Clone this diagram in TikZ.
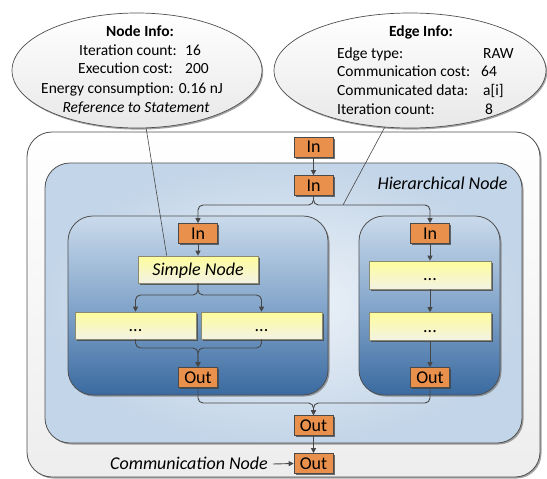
\documentclass[tikz,border=0pt]{standalone}
\usepackage{fontspec}
\setmainfont{Carlito}
\usetikzlibrary{arrows.meta,shapes.geometric,shadows,calc}

\definecolor{linegray}{HTML}{474747}
\definecolor{framegray}{HTML}{505050}
\definecolor{portfill}{HTML}{E9914C}
\definecolor{portborder}{HTML}{4A4A4A}
\definecolor{yellowtop}{HTML}{FEFD9C}
\definecolor{yellowbot}{HTML}{F3F2E4}
\definecolor{yellowborder}{HTML}{8A8A70}
\definecolor{hierlight}{HTML}{EEF3F9}
\definecolor{hierblue}{HTML}{C3D5E8}
\definecolor{subtop}{HTML}{CADAEB}
\definecolor{submid}{HTML}{84A6CB}
\definecolor{subbot}{HTML}{3A6AA0}

\begin{document}
\begin{tikzpicture}[x=1pt,y=-1pt,
  boxshadow/.style={drop shadow={shadow xshift=1.6pt,shadow yshift=-1.6pt,fill=black!75,opacity=.75}},
  bigshadow/.style={drop shadow={shadow xshift=1.5pt,shadow yshift=-1.5pt,fill=black!60,opacity=.6}},
  labelfont/.style={font=\fontsize{18}{21}\selectfont},
  container/.style={draw=framegray,line width=0.8pt,rounded corners=25pt,inner sep=0pt},
  port/.style={draw=portborder,fill=portfill,line width=0.6pt,minimum width=39pt,minimum height=20pt,
    inner sep=0pt,text height=11.5pt,text depth=0pt,labelfont,boxshadow},
  task/.style={draw=yellowborder,top color=yellowtop,bottom color=yellowbot,line width=0.6pt,
    minimum width=121pt,minimum height=27pt,inner sep=0pt,text height=11.5pt,text depth=0pt,labelfont,boxshadow},
  caption/.style={inner sep=0pt,text height=11.5pt,text depth=0pt,font=\fontsize{18}{21}\selectfont\itshape},
  arr/.style={draw=linegray,line width=0.9pt,-{Triangle[length=5pt,width=5pt]},rounded corners=5pt},
  callout/.style={draw=linegray,line width=0.6pt},
  info/.style={ellipse,draw=framegray,line width=0.7pt,top color=white,bottom color=black!9,inner sep=0pt,
    minimum height=115pt,drop shadow={shadow xshift=1.2pt,shadow yshift=-1.6pt,fill=black!60,opacity=.6}},
  infotext/.style={inner sep=0pt,anchor=base west,font=\fontsize{15.5}{18}\selectfont}
]
\useasboundingbox (0,0) rectangle (547,479);
\fill[white] (0,0) rectangle (547,479);

% nested regions
\node[container,top color=white,bottom color=black!7,bigshadow,minimum width=513pt,minimum height=345pt]
  (comm) at (283.5,304.5) {};
\node[container,inner color=hierlight,outer color=hierblue,bigshadow,minimum width=477pt,minimum height=280pt]
  (hier) at (283.5,303) {};
\node[container,top color=subtop,bottom color=subbot,middle color=submid,bigshadow,minimum width=260pt,minimum height=179pt]
  (subL) at (198,305.5) {};
\node[container,top color=subtop,bottom color=subbot,middle color=submid,bigshadow,minimum width=141pt,minimum height=179pt]
  (subR) at (429.5,305.5) {};

\node[caption] (hiername) at (442.5,184) {Hierarchical Node};

% ports
\node[port] (inTop) at (313.5,147) {In};
\node[port] (in2)   at (313.5,185.5) {In};
\node[port] (inL)   at (198,233.5) {In};
\node[port] (inR)   at (430,233.5) {In};
\node[port] (outL)  at (198,377.5) {Out};
\node[port] (outR)  at (430,377.5) {Out};
\node[port] (outH)  at (313.5,425.5) {Out};
\node[port] (outC)  at (313.5,463.5) {Out};

% tasks
\node[task,minimum width=120pt,font=\fontsize{18}{21}\selectfont\itshape] (simple) at (198,269.5) {Simple Node};
\node[task] (yL1) at (135.5,325.5) {...};
\node[task] (yL2) at (261.5,325.5) {...};
\node[task,minimum width=122pt,minimum height=28pt] (yR1) at (430,275) {...};
\node[task,minimum width=122pt,minimum height=28pt] (yR2) at (430,326.5) {...};

\node[caption,anchor=east] (commname) at (268,464) {Communication Node};

% junction points
\coordinate (j1) at (313.5,205);
\coordinate (eb) at (343,205);
\coordinate (j2) at (198,295);
\coordinate (j3) at (198,348);
\coordinate (j4) at (313.5,403);

% connectors
\draw[arr] (inTop.south) -- (in2.north);
\draw[arr] (in2.south) -- (j1) -| (inL.north);
\draw[arr] (in2.south) -- (j1) -| (inR.north);
\draw[arr] (inL.south) -- (simple.north);
\draw[arr] (simple.south) -- (j2) -| (yL1.north);
\draw[arr] (simple.south) -- (j2) -| (yL2.north);
\draw[arr] (yL1.south) |- (j3) -- (outL.north);
\draw[arr] (yL2.south) |- (j3) -- (outL.north);
\draw[arr] (inR.south) -- (yR1.north);
\draw[arr] (yR1.south) -- (yR2.north);
\draw[arr] (yR2.south) -- (outR.north);
\draw[arr] (outL.south) |- (j4) -- (outH.north);
\draw[arr] (outR.south) |- (j4) -- (outH.north);
\draw[arr] (outH.south) -- (outC.north);
\draw[arr] ($(commname.east)+(5,0)$) -- (outC.west);

% information callouts
\node[info,minimum width=250pt] (nodeinfo) at (137,70.5) {};
\node[info,minimum width=272pt] (edgeinfo) at (410,70.5) {};
\draw[callout] (nodeinfo.-81) -- ($(simple.north west)+(29,0)$);
\draw[callout] (edgeinfo.-114) -- (eb);

\node[infotext,anchor=base,font=\fontsize{15.5}{18}\selectfont\bfseries] (ni0) at (140,37) {Node Info:};
\node[infotext] (ni1) at (79,55) {Iteration count:};
\node[infotext] (ni1v) at (185,55) {16};
\node[infotext] (ni2) at (78,74) {Execution cost:};
\node[infotext] (ni2v) at (185,74) {200};
\node[infotext] (ni3) at (41,93) {Energy consumption: 0.16 nJ};
\node[infotext,anchor=base,font=\fontsize{15.5}{18}\selectfont\itshape] (ni4) at (136,112) {Reference to Statement};

\node[infotext,anchor=base,font=\fontsize{15.5}{18}\selectfont\bfseries] (ei0) at (421,37) {Edge Info:};
\node[infotext] (ei1) at (337,58) {Edge type:};
\node[infotext] (ei1v) at (483,58) {RAW};
\node[infotext] (ei2) at (337,76) {Communication cost:};
\node[infotext] (ei2v) at (481,76) {64};
\node[infotext] (ei3) at (337,95) {Communicated data:};
\node[infotext] (ei3v) at (483,95) {a[i]};
\node[infotext] (ei4) at (337,114) {Iteration count:};
\node[infotext] (ei4v) at (485,114) {8};
\end{tikzpicture}
\end{document}
